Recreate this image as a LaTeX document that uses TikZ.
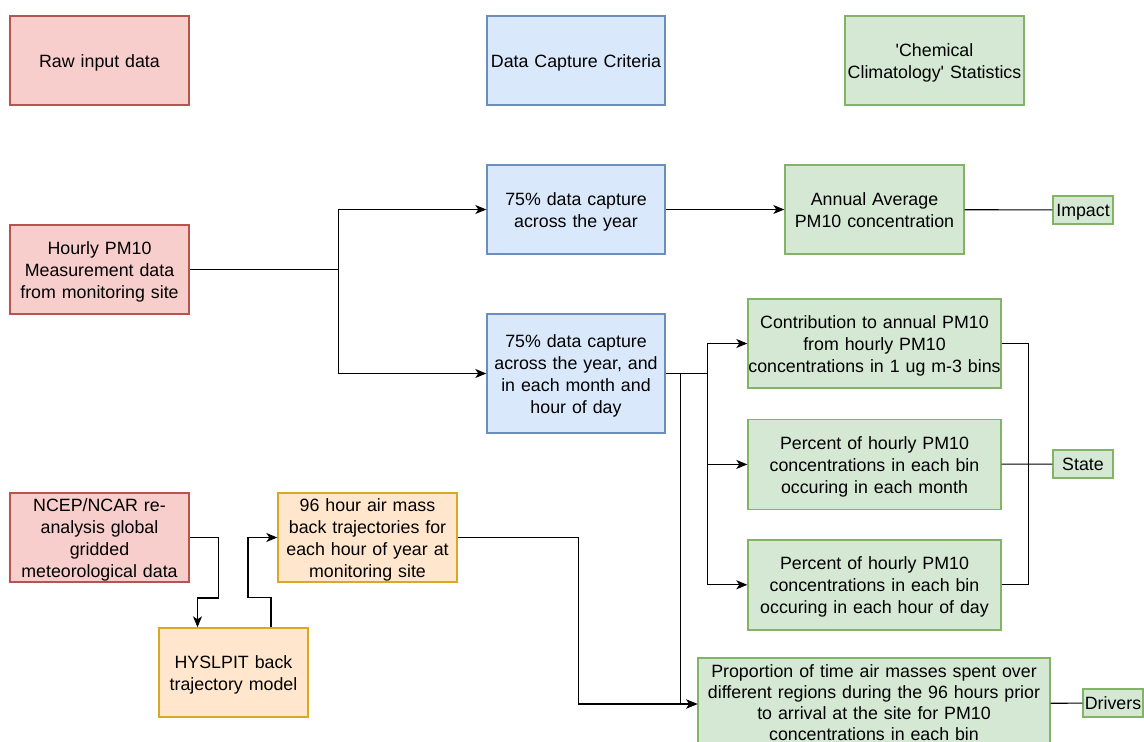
\documentclass[tikz,border=0pt]{standalone}
\usepackage{fontspec}
\setmainfont{Liberation Sans}
\usepackage{tikz}
\usetikzlibrary{positioning,arrows.meta}
\usepackage{xcolor}
\definecolor{rawfill}{HTML}{F8CECC}
\definecolor{rawline}{HTML}{B85450}
\definecolor{critfill}{HTML}{DAE8FC}
\definecolor{critline}{HTML}{6C8EBF}
\definecolor{statfill}{HTML}{D5E8D4}
\definecolor{statline}{HTML}{82B366}
\definecolor{trajfill}{HTML}{FFE6CC}
\definecolor{trajline}{HTML}{D9A824}
\newcommand{\boxstrut}{\rule[-4.2pt]{0pt}{21.7pt}}

\begin{document}
\begin{tikzpicture}[
      x=1pt, y=-1pt,
      every node/.style={font=\fontsize{17.8}{22}\selectfont, align=center, inner sep=0pt,
        execute at begin node=\boxstrut, execute at end node=\boxstrut},
      box/.style={rectangle, line width=1.4pt, minimum width=#1, text width=#1},
      box/.default=179pt,
      raw/.style={box, fill=rawfill, draw=rawline, minimum height=89pt},
      crit/.style={box=178pt, fill=critfill, draw=critline, minimum height=89pt},
      stat/.style={box, fill=statfill, draw=statline, minimum height=89pt},
      traj/.style={box, fill=trajfill, draw=trajline, minimum height=89pt},
      tag/.style={box=60pt, fill=statfill, draw=statline, minimum height=28pt},
      arr/.style={-{Stealth[length=11pt,width=9pt,inset=3pt]}, line width=1.1pt},
      link/.style={line width=1.1pt}
    ]
      \useasboundingbox (0,0) rectangle (1144,742);
      % legend
      \node[raw] (rawkey) at (99.5,60.5) {Raw input data};
      \node[crit] (critkey) at (576,60.5) {Data Capture Criteria};
      \node[stat] (statkey) at (934.5,60.5) {\textquotesingle Chemical\\Climatology\textquotesingle{} Statistics};
      % PM10 chain
      \node[raw] (hourly) at (99.5,269.5) {Hourly PM10\\Measurement data\\from monitoring site};
      \node[crit] (capA) at (576,209.5) {75\% data capture\\across the year};
      \node[stat] (annual) at (874.5,209.5) {Annual Average\\PM10 concentration};
      \node[tag] (impact) at (1083,210) {Impact};
      \node[crit, minimum height=119pt] (capB) at (576,373.5) {75\% data capture\\across the year, and\\in each month and\\hour of day};
      \node[stat, box=253pt] (contrib) at (874.5,343.5) {Contribution to annual PM10\\from hourly PM10\\concentrations in 1 ug m-3 bins};
      \node[stat, box=253pt, minimum height=90pt, below=30pt of contrib] (month) {Percent of hourly PM10\\concentrations in each bin\\occuring in each month};
      \node[stat, box=253pt, minimum height=90pt, below=29pt of month] (hour) {Percent of hourly PM10\\concentrations in each bin\\occuring in each hour of day};
      \node[tag] (state) at (1083,464) {State};
      % trajectory chain
      \node[raw] (ncep) at (99.5,537.5) {NCEP/NCAR re-\\analysis global\\gridded\\meteorological data};
      \node[traj] (backtraj) at (367.5,537.5) {96 hour air mass\\back trajectories for\\each hour of year at\\monitoring site};
      \node[traj, box=149pt] (hysplit) at (233.5,672.5) {HYSLPIT back\\trajectory model};
      \node[stat, box=352pt, minimum height=92pt, font=\fontsize{17.8}{21}\selectfont,
        execute at end node={\rule[-7pt]{0pt}{7pt}}] (prop) at (874,704) {Proportion of time air masses spent over\\different regions during the 96 hours prior\\to arrival at the site for PM10\\concentrations in each bin};
      \node[tag] (drivers) at (1113,703) {Drivers};
      % connectors
      \draw[arr] (hourly.east) -- ++(149,0) coordinate (hsplit) |- (capA.west);
      \draw[arr] (hsplit) |- (capB.west);
      \draw[arr] (capA) -- (annual);
      \draw[link] (annual) -- (impact);
      \draw[arr] (capB.east) -- ++(42,0) coordinate (bsplit) |- (contrib.west);
      \draw[arr] (bsplit) |- (month.west);
      \draw[arr] (bsplit) |- (hour.west);
      \draw[arr] (capB.east) -- ++(15,0) |- (prop.west);
      \draw[link] (contrib.east) -- ++(27,0) |- (hour.east);
      \draw[link] (month) -- (state);
      \draw[link] (prop) -- (drivers);
      \draw[arr] (ncep.east) -- ++(29,0) -- ++(0,60.5) -| ([xshift=-36pt]hysplit.north);
      \draw[arr] ([xshift=37.5pt]hysplit.north) -- ++(0,-30) -- ++(-23,0) |- (backtraj.west);
      \draw[arr] (backtraj.east) -- ++(121,0) |- (prop.west);
    \end{tikzpicture}
\end{document}
